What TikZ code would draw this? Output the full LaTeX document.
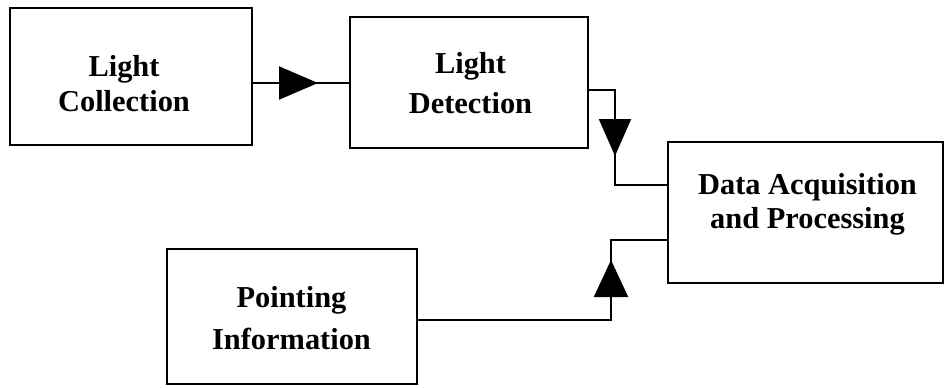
\documentclass[tikz,border=0pt]{standalone}
\usepackage{fontspec}
\setmainfont{Liberation Serif}
\usetikzlibrary{arrows.meta,decorations.markings}
\begin{document}
\begin{tikzpicture}[x=0.5pt,y=-0.5pt,
  box/.style={draw,line width=1pt,inner sep=0pt},
  txt/.style={font=\bfseries\fontsize{15.2}{#1}\selectfont,align=center,inner sep=0pt,anchor=north},
  conn/.style={line width=1pt},
  midarrow/.style n args={3}{postaction={decorate,decoration={markings,
      mark=at position #1 with {\arrow{Triangle[length=#2,width=#3]}}}}}
]
\useasboundingbox (0,0) rectangle (946,387);
% boxes
\node[box,minimum width=121pt,minimum height=68.5pt] (b1) at (131,76.5) {};
\node[box,minimum width=119pt,minimum height=65.5pt] (b2) at (469,82.5) {};
\node[box,minimum width=137.5pt,minimum height=70.5pt] (b4) at (805.5,212.5) {};
\node[box,minimum width=125pt,minimum height=67.5pt] (b3) at (292,316.5) {};
% texts
\node[txt=17.5pt] (t1) at (124,54.5) {Light\\Collection};
\node[txt=20pt] (t2) at (470.5,51.5) {Light\\Detection};
\node[txt=17pt] (t4) at (807.5,172.5) {Data Acquisition\\and Processing};
\node[txt=21pt] (t3) at (291.5,285.5) {Pointing\\Information};
% connectors
\draw[conn,midarrow={32.5pt}{19.5pt}{16.5pt}] (b1.east |- 0,83) -- (b2.west |- 0,83);
\draw[conn,midarrow={46pt}{18.5pt}{16pt}] (b2.east |- 0,90) -| (615,185) -- (b4.west |- 0,185);
\draw[conn,midarrow={126.5pt}{18.5pt}{17pt}] (b3.east |- 0,320) -| (611,240) -- (b4.west |- 0,240);
\end{tikzpicture}
\end{document}
